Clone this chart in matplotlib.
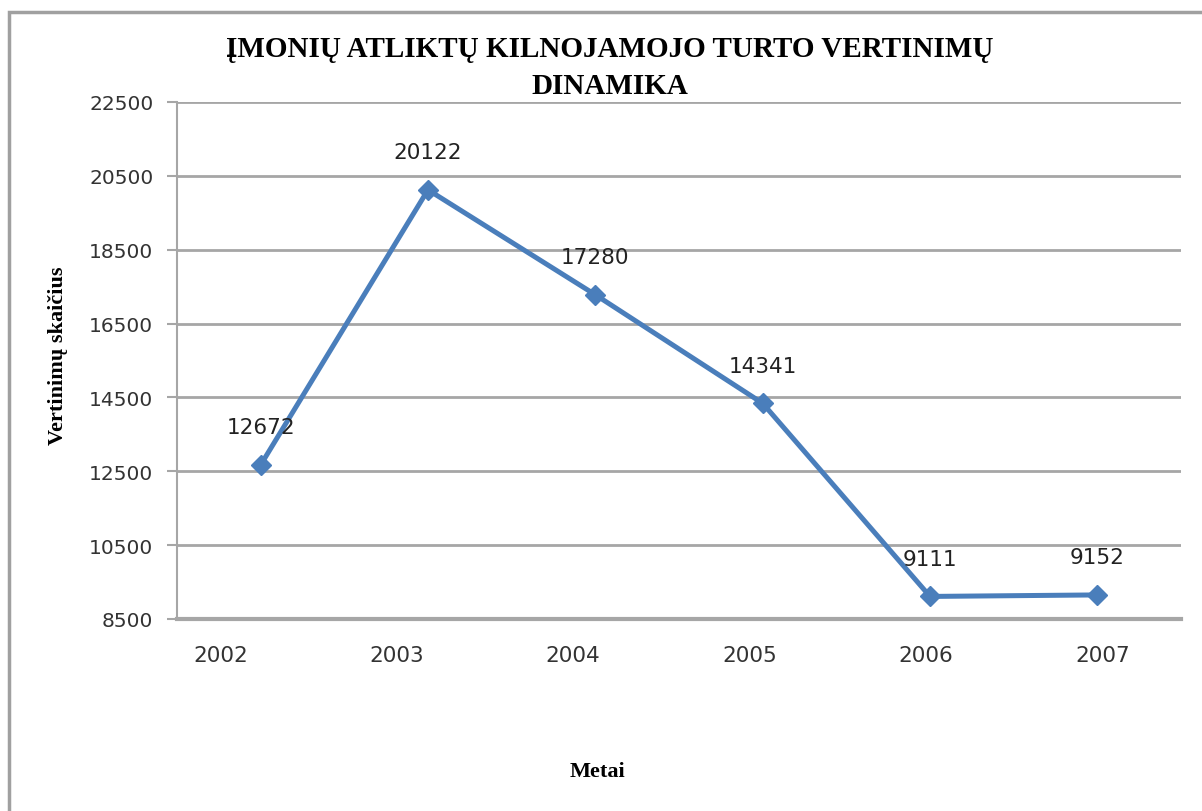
import numpy as np
import matplotlib
matplotlib.use("Agg")
import matplotlib.pyplot as plt
from matplotlib.patches import Rectangle

# data
years = ["2002", "2003", "2004", "2005", "2006", "2007"]
values = [12672, 20122, 17280, 14341, 9111, 9152]
yticks = [8500, 10500, 12500, 14500, 16500, 18500, 20500, 22500]

title = "ĮMONIŲ ATLIKTŲ KILNOJAMOJO TURTO VERTINIMŲ\nDINAMIKA"
xlabel = "Metai"
ylabel = "Vertinimų skaičius"

line_col = "#4a7ebb"
grid_col = "#a6a6a6"

fig = plt.figure(figsize=(12.02, 8.12), dpi=100)
fig.patch.set_facecolor("white")

# outer chart frame (only left and top edges show in the picture)
fig.add_artist(Rectangle((9 / 1202, -0.05), 1.2, 1 - 13 / 812 + 0.05,
                         transform=fig.transFigure, fill=False,
                         edgecolor="#a0a0a0", linewidth=2.5))

ax = fig.add_axes([177 / 1202, 1 - 620 / 812, (1181 - 177) / 1202, (620 - 103) / 812])

x = np.arange(len(years))
ax.plot(x, values, color=line_col, linewidth=3.6, marker="D", markersize=10,
        markeredgecolor=line_col, markerfacecolor=line_col, zorder=3)

for xi, v in zip(x, values):
    ax.annotate(str(v), (xi, v), xytext=(0, 27), textcoords="offset points",
                ha="center", va="center", fontsize=15.5, color="#222222",
                family="DejaVu Sans")

ax.set_xlim(-0.5, len(years) - 0.5)
ax.set_ylim(yticks[0], yticks[-1])
ax.set_yticks(yticks)
ax.set_yticklabels([str(t) for t in yticks], fontsize=14.5, color="#333333",
                   family="DejaVu Sans")
ax.yaxis.grid(True, color=grid_col, linewidth=2)
ax.set_axisbelow(True)

# category labels sit a bit left of the points in the original
label_pos = -0.24 + 1.054 * x
ax.set_xticks(label_pos)
ax.set_xticklabels(years, fontsize=15.5, color="#333333", family="DejaVu Sans")
ax.tick_params(axis="x", length=0, pad=19)
ax.tick_params(axis="y", length=7, width=1.5, color=grid_col, pad=10)

for s in ["top", "right"]:
    ax.spines[s].set_visible(False)
ax.spines["left"].set_color(grid_col)
ax.spines["left"].set_linewidth(1.5)
ax.spines["bottom"].set_color(grid_col)
ax.spines["bottom"].set_linewidth(3)

fig.text(610 / 1202, 1 - 68 / 812, title, ha="center", va="center",
         fontsize=21, fontweight="bold", family="Liberation Serif",
         linespacing=1.5)
fig.text(597 / 1202, 1 - 772 / 812, xlabel, ha="center", va="center",
         fontsize=16, fontweight="bold", family="Liberation Serif")
fig.text(58 / 1202, 1 - 356 / 812, ylabel, ha="center", va="center",
         rotation=90, fontsize=16, fontweight="bold", family="Liberation Serif")

fig.savefig("out.png", dpi=100, facecolor="white")
